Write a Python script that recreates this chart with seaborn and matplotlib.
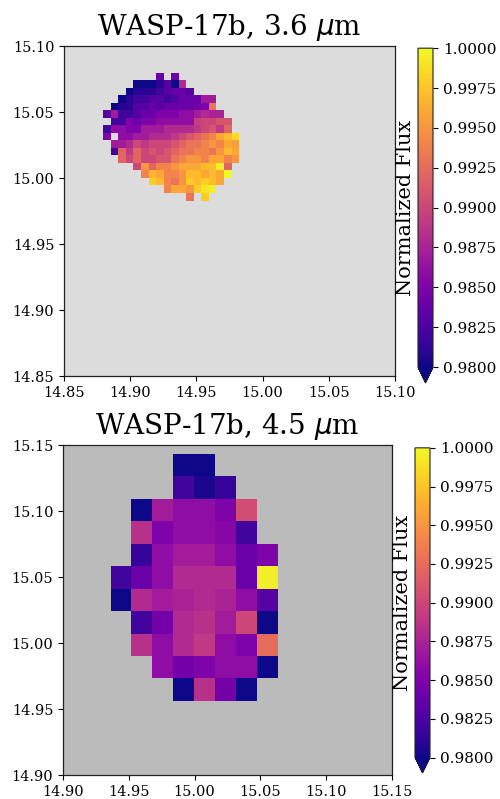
import numpy as np
import pandas as pd
import matplotlib
matplotlib.use("Agg")
import matplotlib.pyplot as plt
import seaborn as sns

N = np.nan

# ---------------- data: 3.6 micron map ----------------
x36 = [14.8825, 14.8882, 14.8939, 14.8996, 14.9053, 14.9110, 14.9167, 14.9224, 14.9281,
       14.9338, 14.9395, 14.9452, 14.9509, 14.9566, 14.9623, 14.9680, 14.9737, 14.9794]
y36 = [15.0770, 15.0713, 15.0656, 15.0599, 15.0542, 15.0485, 15.0428, 15.0371, 15.0314,
       15.0257, 15.0200, 15.0143, 15.0086, 15.0029, 14.9972, 14.9915, 14.9858]
flux36 = [
    [N, N, N, N, N, N, N, .9840, N, .9840, N, N, N, N, N, N, N, N],
    [N, N, N, N, .9800, .9800, .9800, .9810, .9830, .9800, .9880, N, N, N, N, N, N, N],
    [N, N, N, .9800, .9810, .9810, .9810, .9820, .9830, .9840, .9840, .9830, N, N, N, N, N, N],
    [N, N, .9800, .9810, .9820, .9820, .9830, .9830, .9820, .9830, .9840, .9840, .9840, .9870, .9870, N, N, N],
    [N, .9800, .9810, .9810, .9830, .9830, .9840, .9830, .9840, .9840, .9840, .9840, .9845, .9850, .9930, N, N, N],
    [.9830, .9870, .9820, .9820, .9830, .9840, .9840, .9850, .9850, .9850, .9860, .9860, .9870, .9880, .9875, .9875, N, N],
    [N, .9820, .9820, .9850, .9840, .9850, .9850, .9860, .9860, .9860, .9860, .9860, .9895, .9900, .9900, .9910, .9910, N],
    [.9820, .9860, .9860, .9850, .9850, .9870, .9870, .9870, .9880, .9880, .9880, .9880, .9890, .9900, .9910, .9890, .9920, N],
    [.9850, N, .9860, .9860, .9870, .9870, .9880, .9880, .9880, .9890, .9900, .9910, .9920, .9930, .9940, .9960, .9970, .9985],
    [N, .9870, .9870, .9880, .9900, .9890, .9900, .9900, .9900, .9910, .9920, .9930, .9930, .9940, .9950, .9940, .9960, .9955],
    [N, .9820, .9920, .9890, .9920, .9900, .9910, .9900, .9910, .9920, .9930, .9930, .9940, .9940, .9930, .9950, .9970, .9960],
    [N, N, .9920, .9900, .9920, .9900, .9900, .9910, .9910, .9930, .9940, .9950, .9950, .9940, .9960, .9960, .9940, .9950],
    [N, N, N, N, .9900, .9950, .9920, .9940, .9940, .9950, .9960, .9960, .9960, .9970, .9970, .9995, .9920, N],
    [N, N, N, N, N, .9940, .9970, .9960, .9940, .9940, .9950, .9970, .9970, .9960, .9970, .9960, 1.0000, N],
    [N, N, N, N, N, N, .9980, .9970, .9940, .9930, .9950, .9980, .9970, .9980, .9970, .9960, N, N],
    [N, N, N, N, N, N, N, N, .9940, .9960, .9960, .9950, .9980, .9990, .9995, N, N, N],
    [N, N, N, N, N, N, N, N, N, N, N, .9930, N, .9980, N, N, N, N],
]

# ---------------- data: 4.5 micron map ----------------
x45 = [14.9441, 14.9600, 14.9759, 14.9918, 15.0077, 15.0236, 15.0395, 15.0554]
y45 = [15.1347, 15.1177, 15.1007, 15.0837, 15.0667, 15.0497, 15.0327, 15.0157,
       14.9987, 14.9817, 14.9647]
flux45 = [
    [N, N, N, .9800, .9800, N, N, N],
    [N, N, N, .9820, .9805, .9815, N, N],
    [N, .9800, .9870, .9860, .9860, .9850, .9905, N],
    [N, .9885, .9850, .9860, .9860, .9855, .9820, N],
    [N, .9815, .9860, .9870, .9870, .9860, .9840, .9850],
    [.9820, .9840, .9860, .9880, .9880, .9880, .9840, .9995],
    [.9800, .9880, .9870, .9875, .9880, .9875, .9860, .9830],
    [N, .9820, .9845, .9880, .9885, .9870, .9900, .9800],
    [N, .9885, .9860, .9880, .9890, .9860, .9850, .9925],
    [N, N, .9860, .9845, .9850, .9860, .9860, .9800],
    [N, N, N, .9800, .9885, .9845, .9800, N],
]

titles = [r"WASP-17b, 3.6 $\mu$m", r"WASP-17b, 4.5 $\mu$m"]
xticks36 = [14.85, 14.90, 14.95, 15.00, 15.05, 15.10]
xticks45 = [14.90, 14.95, 15.00, 15.05, 15.10, 15.15]
cbar_ticks = [0.9800, 0.9825, 0.9850, 0.9875, 0.9900, 0.9925, 0.9950, 0.9975, 1.0000]


def to_frame(xc, yc, vals):
    rows = []
    for j, yv in enumerate(yc):
        for i, xv in enumerate(xc):
            v = vals[j][i]
            if not np.isnan(v):
                rows.append((xv, yv, v))
    return pd.DataFrame(rows, columns=["x", "y", "flux"])


def edges(c):
    c = np.asarray(c)
    step = np.mean(np.abs(np.diff(c)))
    e = np.sort(np.concatenate([c - step / 2, [c.max() + step / 2]]))
    return e


sns.set_style("ticks")
plt.rcParams["font.family"] = ["DejaVu Serif", "DejaVu Sans"]
plt.rcParams["mathtext.fontset"] = "dejavusans"
plt.rcParams["text.color"] = "black"
plt.rcParams["axes.labelcolor"] = "black"
plt.rcParams["xtick.color"] = "black"
plt.rcParams["ytick.color"] = "black"
plt.rcParams["axes.edgecolor"] = "#222222"

fig = plt.figure(figsize=(5.0, 7.99), dpi=100)

panels = [
    dict(xc=x36, yc=y36, vals=flux36, ticks=xticks36, face="#dcdcdc",
         ax=[0.128, 0.5294, 0.662, 0.413], cax=[0.836, 0.5207, 0.030, 0.419]),
    dict(xc=x45, yc=y45, vals=flux45, ticks=xticks45, face="#bbbbbb",
         ax=[0.126, 0.0300, 0.658, 0.413], cax=[0.830, 0.0325, 0.030, 0.407]),
]

for p, title in zip(panels, titles):
    ax = fig.add_axes(p["ax"])
    cax = fig.add_axes(p["cax"])
    df = to_frame(p["xc"], p["yc"], p["vals"])
    sns.histplot(data=df, x="x", y="y", weights="flux",
                 bins=[edges(p["xc"]), edges(p["yc"])],
                 cmap="plasma", vmin=0.98, vmax=1.0,
                 cbar=True, cbar_ax=cax,
                 cbar_kws=dict(extend="min", ticks=cbar_ticks, format="%.4f"),
                 ax=ax)
    ax.set_facecolor(p["face"])
    ax.set_xlim(p["ticks"][0], p["ticks"][-1])
    ax.set_ylim(p["ticks"][0], p["ticks"][-1])
    ax.set_xticks(p["ticks"])
    ax.set_yticks(p["ticks"])
    ax.set_xticklabels([f"{t:.2f}" for t in p["ticks"]])
    ax.set_yticklabels([f"{t:.2f}" for t in p["ticks"]])
    ax.tick_params(labelsize=10.5, colors="black")
    ax.set_xlabel("")
    ax.set_ylabel("")
    for s in ax.spines.values():
        s.set_visible(True)
        s.set_linewidth(0.9)
    ax.set_title(title, fontsize=20, pad=8, color="black")

    cax.tick_params(labelsize=11, colors="black")
    cax.yaxis.set_label_position("left")
    cax.set_ylabel("Normalized Flux", fontsize=15, labelpad=2, color="black")
    cbar = cax.collections[0].colorbar if cax.collections else None
    if cbar is not None:
        cbar.outline.set_linewidth(1.3)
        cbar.outline.set_edgecolor("black")

fig.savefig("out.png", dpi=100)
